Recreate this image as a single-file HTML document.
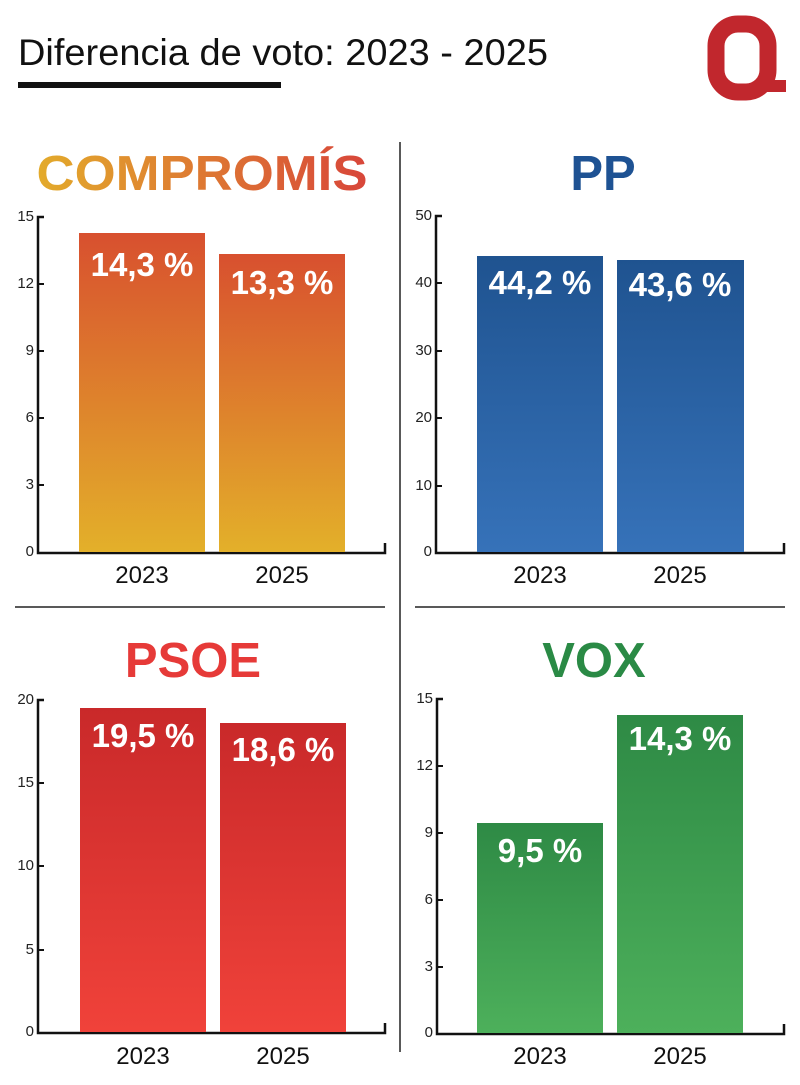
<!DOCTYPE html>
<html><head><meta charset="utf-8"><style>
html,body{margin:0;padding:0;background:#fff;}
svg{display:block;}
text{font-family:"Liberation Sans",sans-serif;}
</style></head><body>
<svg width="800" height="1085" viewBox="0 0 800 1085" xmlns="http://www.w3.org/2000/svg">
<defs>
<linearGradient id="gc" x1="0" y1="0" x2="0" y2="1"><stop offset="0" stop-color="#d8502f"/><stop offset="1" stop-color="#e3b02a"/></linearGradient>
<linearGradient id="gp" x1="0" y1="0" x2="0" y2="1"><stop offset="0" stop-color="#1f5390"/><stop offset="1" stop-color="#3672b9"/></linearGradient>
<linearGradient id="gs" x1="0" y1="0" x2="0" y2="1"><stop offset="0" stop-color="#c9292a"/><stop offset="1" stop-color="#f0423a"/></linearGradient>
<linearGradient id="gv" x1="0" y1="0" x2="0" y2="1"><stop offset="0" stop-color="#2e8a45"/><stop offset="1" stop-color="#4db05b"/></linearGradient>
<linearGradient id="gt" x1="0" y1="0" x2="1" y2="0"><stop offset="0" stop-color="#e3ab2b"/><stop offset="1" stop-color="#d8463a"/></linearGradient>
</defs>
<text x="18" y="65" font-size="37" fill="#111" textLength="530" lengthAdjust="spacingAndGlyphs">Diferencia de voto: 2023 - 2025</text>
<rect x="18" y="82" width="263" height="6" fill="#111"/>
<!-- logo -->
<rect x="716" y="24" width="52" height="68" rx="22" fill="none" stroke="#c1272d" stroke-width="17"/>
<rect x="762" y="80" width="24" height="12" fill="#c1272d"/>
<line x1="400" y1="142" x2="400" y2="1052" stroke="#222" stroke-width="1.5"/>
<line x1="15" y1="607" x2="385" y2="607" stroke="#222" stroke-width="1.5"/>
<line x1="415" y1="607" x2="785" y2="607" stroke="#222" stroke-width="1.5"/>
<g font-weight="bold" font-size="49" text-anchor="middle">
<text x="202" y="190" fill="url(#gt)" textLength="331" lengthAdjust="spacingAndGlyphs">COMPROMÍS</text>
<text x="603" y="190" fill="#1e5293">PP</text>
<text x="193" y="677" fill="#e63a38">PSOE</text>
<text x="594" y="677" fill="#2a8a45">VOX</text>
</g>
<g stroke="#111" stroke-width="2.5" fill="none">
<path d="M44 217H38V553H385V543"/>
<path d="M442 216H436V553H784V543"/>
<path d="M44 700H38V1033H385V1023"/>
<path d="M443 699H437V1034H784V1024"/>
</g>
<g stroke="#111" stroke-width="2">
<line x1="38" y1="284" x2="44" y2="284"/><line x1="38" y1="351" x2="44" y2="351"/><line x1="38" y1="418" x2="44" y2="418"/><line x1="38" y1="485" x2="44" y2="485"/>
<line x1="436" y1="283" x2="442" y2="283"/><line x1="436" y1="351" x2="442" y2="351"/><line x1="436" y1="418" x2="442" y2="418"/><line x1="436" y1="486" x2="442" y2="486"/>
<line x1="38" y1="783" x2="44" y2="783"/><line x1="38" y1="866" x2="44" y2="866"/><line x1="38" y1="950" x2="44" y2="950"/>
<line x1="437" y1="766" x2="443" y2="766"/><line x1="437" y1="833" x2="443" y2="833"/><line x1="437" y1="900" x2="443" y2="900"/><line x1="437" y1="967" x2="443" y2="967"/>
</g>
<g font-size="15" fill="#222" text-anchor="end">
<text x="34" y="221">15</text><text x="34" y="288">12</text><text x="34" y="355">9</text><text x="34" y="422">6</text><text x="34" y="489">3</text><text x="34" y="556">0</text>
<text x="432" y="220">50</text><text x="432" y="287">40</text><text x="432" y="355">30</text><text x="432" y="422">20</text><text x="432" y="490">10</text><text x="432" y="556">0</text>
<text x="34" y="704">20</text><text x="34" y="787">15</text><text x="34" y="870">10</text><text x="34" y="954">5</text><text x="34" y="1036">0</text>
<text x="433" y="703">15</text><text x="433" y="770">12</text><text x="433" y="837">9</text><text x="433" y="904">6</text><text x="433" y="971">3</text><text x="433" y="1037">0</text>
</g>
<rect x="79" y="233" width="126" height="319" fill="url(#gc)"/>
<rect x="219" y="254" width="126" height="298" fill="url(#gc)"/>
<rect x="477" y="256" width="126" height="296" fill="url(#gp)"/>
<rect x="617" y="260" width="127" height="292" fill="url(#gp)"/>
<rect x="80" y="708" width="126" height="324" fill="url(#gs)"/>
<rect x="220" y="723" width="126" height="309" fill="url(#gs)"/>
<rect x="477" y="823" width="126" height="210" fill="url(#gv)"/>
<rect x="617" y="715" width="126" height="318" fill="url(#gv)"/>
<g font-weight="bold" font-size="33" fill="#fff" text-anchor="middle">
<text x="142" y="276">14,3 %</text><text x="282" y="294">13,3 %</text>
<text x="540" y="294">44,2 %</text><text x="680" y="296">43,6 %</text>
<text x="143" y="747">19,5 %</text><text x="283" y="761">18,6 %</text>
<text x="540" y="862">9,5 %</text><text x="680" y="750">14,3 %</text>
</g>
<g font-size="24" fill="#111" text-anchor="middle">
<text x="142" y="583">2023</text><text x="282" y="583">2025</text>
<text x="540" y="583">2023</text><text x="680" y="583">2025</text>
<text x="143" y="1064">2023</text><text x="283" y="1064">2025</text>
<text x="540" y="1064">2023</text><text x="680" y="1064">2025</text>
</g>
</svg>
</body></html>
